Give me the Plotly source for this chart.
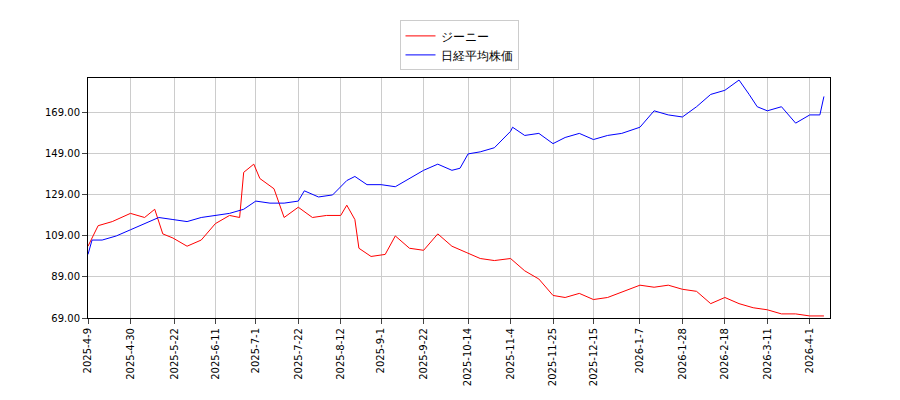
import plotly.graph_objects as go

# Nikkei (blue) approx values
nk_dates = ["2025-04-09","2025-04-11","2025-04-16","2025-04-23","2025-04-30","2025-05-07","2025-05-14",
            "2025-05-21","2025-05-28","2025-06-04","2025-06-11","2025-06-18","2025-06-25","2025-07-01",
            "2025-07-08","2025-07-15","2025-07-22","2025-07-25","2025-08-01","2025-08-08","2025-08-15",
            "2025-08-19","2025-08-25","2025-09-01","2025-09-08","2025-09-15","2025-09-22","2025-09-29",
            "2025-10-06","2025-10-10","2025-10-14","2025-10-20","2025-10-27","2025-11-04","2025-11-05",
            "2025-11-11","2025-11-18","2025-11-25","2025-12-01","2025-12-08","2025-12-15","2025-12-22",
            "2025-12-29","2026-01-07","2026-01-14","2026-01-21","2026-01-28","2026-02-04","2026-02-11",
            "2026-02-18","2026-02-25","2026-03-02","2026-03-06","2026-03-11","2026-03-18","2026-03-25",
            "2026-04-01","2026-04-06","2026-04-08"]
nk_vals = [100,107,107,109,112,115,118,117,116,118,119,120,122,126,125,125,126,131,128,129,136,
           138,134,134,133,137,141,144,141,142,149,150,152,160,162,158,159,154,157,159,156,158,
           159,162,170,168,167,172,178,180,185,178,172,170,172,164,168,168,177]

# Genie (red) approx values
gn_dates = ["2025-04-09","2025-04-14","2025-04-21","2025-04-30","2025-05-07","2025-05-12","2025-05-16",
            "2025-05-21","2025-05-28","2025-06-04","2025-06-11","2025-06-18","2025-06-23","2025-06-25",
            "2025-06-30","2025-07-03","2025-07-10","2025-07-15","2025-07-22","2025-07-29","2025-08-05",
            "2025-08-12","2025-08-15","2025-08-19","2025-08-21","2025-08-27","2025-09-03","2025-09-08",
            "2025-09-15","2025-09-22","2025-09-29","2025-10-06","2025-10-13","2025-10-20","2025-10-27",
            "2025-11-04","2025-11-11","2025-11-18","2025-11-25","2025-12-01","2025-12-08","2025-12-15",
            "2025-12-22","2026-01-07","2026-01-14","2026-01-21","2026-01-28","2026-02-04","2026-02-11",
            "2026-02-18","2026-02-25","2026-03-04","2026-03-11","2026-03-18","2026-03-25","2026-04-01",
            "2026-04-08"]
gn_vals = [104,114,116,120,118,122,110,108,104,107,115,119,118,140,144,137,132,118,123,118,119,
           119,124,117,103,99,100,109,103,102,110,104,101,98,97,98,92,88,80,79,81,78,79,85,84,
           85,83,82,76,79,76,74,73,71,71,70,70]

tick_dates = ["2025-04-09","2025-04-30","2025-05-22","2025-06-11","2025-07-01","2025-07-22",
              "2025-08-12","2025-09-01","2025-09-22","2025-10-14","2025-11-04","2025-11-25",
              "2025-12-15","2026-01-07","2026-01-28","2026-02-18","2026-03-11","2026-04-01"]
tick_text = ["-".join(str(int(p)) for p in d.split("-")) for d in tick_dates]
y_ticks = [69, 89, 109, 129, 149, 169]

fig = go.Figure()
fig.add_trace(go.Scatter(x=gn_dates, y=gn_vals, mode="lines", name="ジーニー",
                         line=dict(color="red", width=1)))
fig.add_trace(go.Scatter(x=nk_dates, y=nk_vals, mode="lines", name="日経平均株価",
                         line=dict(color="blue", width=1)))

fig.update_layout(
    width=900, height=400,
    paper_bgcolor="white", plot_bgcolor="white",
    margin=dict(l=80, r=78, t=70, b=90, autoexpand=False),
    font=dict(family="DejaVu Sans", size=10, color="black"),
    legend=dict(x=0.5, y=1.24, xanchor="center", yanchor="top",
                bordercolor="#cccccc", borderwidth=1, font=dict(size=12)),
    showlegend=True,
)
fig.update_xaxes(range=["2025-04-09", "2026-04-11"], tickvals=tick_dates, ticktext=tick_text,
                 tickangle=-90, showgrid=True, gridcolor="#cccccc", showline=True,
                 linecolor="black", mirror=True, ticks="outside", automargin=False)
fig.update_yaxes(range=[69, 186], tickvals=y_ticks, ticktext=[f"{v:.2f}" for v in y_ticks],
                 showgrid=True, gridcolor="#cccccc", showline=True, linecolor="black",
                 mirror=True, ticks="outside", automargin=False)

fig.write_html("out.html")
